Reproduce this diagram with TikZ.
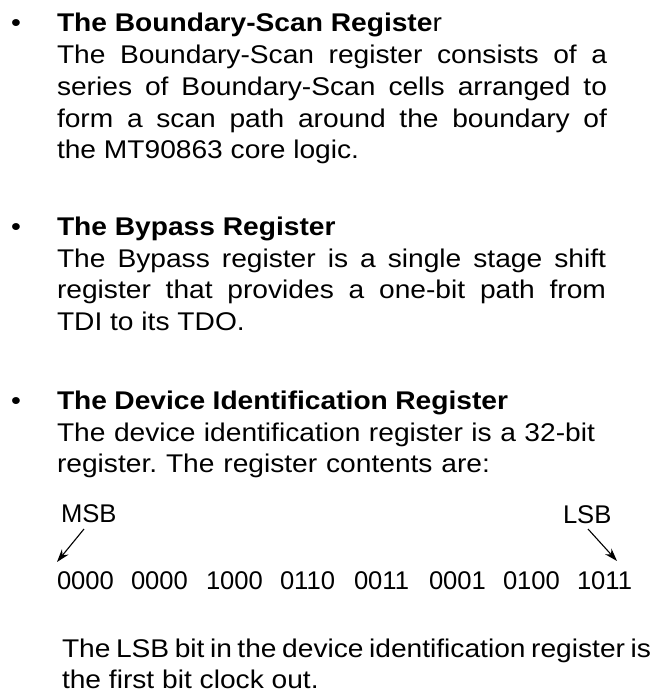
\documentclass[tikz,border=0pt]{standalone}
\usepackage{fontspec}
\setmainfont{Liberation Sans}[FakeStretch=1.1]
\newfontfamily\figfont{Liberation Sans}
\usetikzlibrary{arrows.meta}
\frenchspacing
\tikzset{
  txt/.style={anchor=base west, inner sep=0pt, outer sep=0pt, font=\fontsize{25.6}{30}\selectfont},
  fig/.style={anchor=base west, inner sep=0pt, outer sep=0pt, font=\figfont\fontsize{25.6}{30}\selectfont},
  ptr/.style={line width=1.1pt, -{Stealth[length=13pt,width=8.5pt]}}
}
\begin{document}
\begin{tikzpicture}[x=1pt,y=-1pt]
\useasboundingbox (0,0) rectangle (663,692);
% Section 1
\node[txt] (b1) at (11,32) {•};
\node[txt] (t1) at (57,32) {\textbf{The Boundary-Scan Registe}r};
\node[txt] (l11) at (57,64) {\makebox[550pt][s]{The Boundary-Scan register consists of a}};
\node[txt] (l12) at (57,96) {\makebox[550pt][s]{series of Boundary-Scan cells arranged to}};
\node[txt] (l13) at (57,128) {\makebox[550pt][s]{form a scan path around the boundary of}};
\node[txt] (l14) at (57,159) {the MT90863 core logic.};
% Section 2
\node[txt] (b2) at (11,236) {•};
\node[txt] (t2) at (57,236) {\textbf{The Bypass Register}};
\node[txt] (l21) at (57,267) {\makebox[549pt][s]{The Bypass register is a single stage shift}};
\node[txt] (l22) at (57,298) {\makebox[549pt][s]{register that provides a one-bit path from}};
\node[txt] (l23) at (57,330) {TDI to its TDO.};
% Section 3
\node[txt] (b3) at (11,409) {•};
\node[txt] (t3) at (57,409) {\makebox[451pt][s]{\textbf{The Device Identification Register}}};
\node[txt] (l31) at (57,441) {\makebox[538pt][s]{The device identification register is a 32-bit}};
\node[txt] (l32) at (57,472) {\makebox[433pt][s]{register. The register contents are:}};
% Register figure
\node[fig] (msb) at (61,522) {MSB};
\node[fig] (lsb) at (563,523) {LSB};
\foreach \g/\v [count=\i] in {57/0000,131/0000,206/1000,280/0110,354/0011,429/0001,503/0100,577/1011}{
  \node[fig] (g\i) at (\g,589) {\v};
}
\coordinate (msbtail) at (84,529);
\coordinate (msbtip) at (57,562);
\coordinate (lsbtail) at (588,529);
\coordinate (lsbtip) at (617,561);
\draw[ptr] (msbtail) -- (msbtip);
\draw[ptr] (lsbtail) -- (lsbtip);
% Final note
\node[txt] (n1) at (62,657) {\makebox[589pt][s]{The LSB bit in the device identification register is}};
\node[txt] (n2) at (62,688) {the first bit clock out.};
\end{tikzpicture}
\end{document}
